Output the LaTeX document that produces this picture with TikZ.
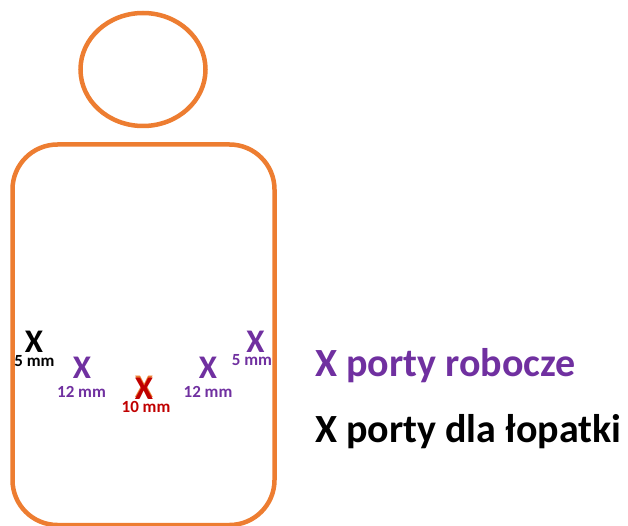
\documentclass[tikz,border=0pt]{standalone}
\usepackage{fontspec}
\setmainfont{Carlito}
\definecolor{bodyorange}{HTML}{ED7D31}
\definecolor{portpurple}{HTML}{7030A0}
\definecolor{portred}{HTML}{C00000}
\begin{document}
\begin{tikzpicture}[x=1pt,y=-1pt,
  outline/.style={draw=bodyorange,line width=4.5pt},
  portmark/.style={inner sep=0pt,font=\fontsize{33}{33}\selectfont\bfseries},
  dist/.style={inner sep=0pt,font=\fontsize{17}{17}\selectfont\bfseries},
  legend/.style={inner sep=0pt,anchor=base west,font=\fontsize{40}{40}\selectfont\bfseries}]
\useasboundingbox (0,0) rectangle (628,526);
% head
\draw[outline] (143,69.5) ellipse [x radius=62.5,y radius=56.5];
% body
\draw[outline,rounded corners=45pt] (12.5,525) rectangle (274.5,144.5);
% ports
\node[portmark,text=black] (xl) at (34,342) {X};
\node[dist,text=black] (dl) at (34.5,361.5) {5 mm};
\node[portmark,text=portpurple] (xpl) at (82,367.5) {X};
\node[dist,text=portpurple] (dpl) at (81.5,392) {12 mm};
\node[portmark,text=bodyorange] (xo) at (144,386.5) {X};
\node[portmark,text=portred] (xr) at (144,389) {X};
\node[dist,text=portred] (dr) at (146,407) {10 mm};
\node[portmark,text=portpurple] (xpr) at (208,367.5) {X};
\node[dist,text=portpurple] (dpr) at (208,392) {12 mm};
\node[portmark,text=portpurple] (xr2) at (255.5,342) {X};
\node[dist,text=portpurple] (dr2) at (252,360) {5 mm};
% legend
\node[legend,text=portpurple] (l1) at (315,376) {X porty robocze};
\node[legend,text=black] (l2) at (315,442) {X porty dla łopatki};
\end{tikzpicture}
\end{document}
